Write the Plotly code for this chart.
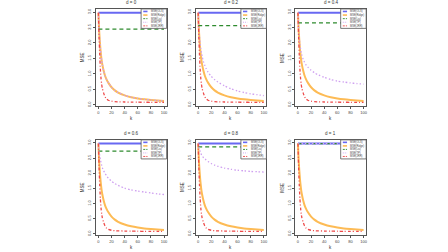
import plotly.graph_objects as go

# ---------------- data ----------------
K = [0, 1, 2, 3, 4, 5, 6, 8, 10, 12, 15, 20, 25, 30, 40, 50, 60, 70, 80, 90, 100]
D_VALUES = [0, 0.2, 0.4, 0.6, 0.8, 1]
PANEL_TITLES = ["d = 0", "d = 0.2", "d = 0.4", "d = 0.6", "d = 0.8", "d = 1"]
SERIES_NAMES = ["MSE(OLS)", "MSE(Ridge)", "MSE(Liu)", "MSE(TP)", "MSE(JRR)"]

OLS_MSE = 2.98
LIU_MSE = [2.45, 2.56, 2.65, 2.73, 2.87, 2.98]
RIDGE_MSE = [2.98, 2.45, 2.1, 1.82, 1.6, 1.43, 1.3, 1.1, 0.95, 0.84, 0.72, 0.57,
             0.47, 0.4, 0.31, 0.25, 0.21, 0.18, 0.16, 0.145, 0.13]
RED_MSE = [2.98, 2.2, 1.6, 1.15, 0.85, 0.66, 0.53, 0.38, 0.27, 0.2, 0.15, 0.12,
           0.105, 0.1, 0.095, 0.09, 0.088, 0.086, 0.085, 0.083, 0.082]
TP_D0 = [2.98, 2.45, 2.1, 1.82, 1.6, 1.43, 1.3, 1.1, 0.95, 0.84, 0.72, 0.57,
         0.47, 0.4, 0.31, 0.25, 0.21, 0.18, 0.16, 0.145, 0.13]
TP_D02 = [2.98, 2.5, 2.2, 1.98, 1.82, 1.68, 1.57, 1.4, 1.28, 1.18, 1.06, 0.92,
          0.82, 0.74, 0.62, 0.52, 0.45, 0.4, 0.36, 0.33, 0.3]
TP_D04 = [2.98, 2.45, 2.15, 1.95, 1.8, 1.68, 1.6, 1.47, 1.38, 1.3, 1.22, 1.12,
          1.04, 0.98, 0.89, 0.82, 0.77, 0.74, 0.71, 0.69, 0.67]
TP_D06 = [2.98, 2.74, 2.57, 2.45, 2.35, 2.26, 2.18, 2.08, 2.0, 1.93, 1.84, 1.74,
          1.66, 1.6, 1.51, 1.45, 1.41, 1.38, 1.35, 1.32, 1.3]
TP_D08 = [2.98, 2.88, 2.8, 2.72, 2.66, 2.61, 2.57, 2.52, 2.48, 2.44, 2.39, 2.32,
          2.27, 2.23, 2.17, 2.13, 2.1, 2.08, 2.06, 2.05, 2.04]
TP_D1 = [2.98, 2.98, 2.98, 2.98, 2.98, 2.98, 2.98, 2.98, 2.98, 2.98, 2.98, 2.98,
         2.98, 2.98, 2.98, 2.98, 2.98, 2.98, 2.98, 2.98, 2.98]
TP_MSE = [TP_D0, TP_D02, TP_D04, TP_D06, TP_D08, TP_D1]

X_TICKS = [0, 20, 40, 60, 80, 100]
Y_TICKS = [0.0, 0.5, 1.0, 1.5, 2.0, 2.5, 3.0]

# ---------------- style ----------------
W, H = 448, 252
BLUE = "#6868F2"
ORANGE = "#FDBB55"
GREEN = "#2E8B2E"
PURPLE = "#CFA0F0"
RED = "#EE4A4A"
FONT = "Liberation Sans"
STYLES = [
    dict(color=BLUE, width=2),
    dict(color=ORANGE, width=2),
    dict(color=GREEN, width=1.3, dash="4px,3px"),
    dict(color=PURPLE, width=1.3, dash="1.5px,2px"),
    dict(color=RED, width=1.3, dash="3px,2px,1px,2px"),
]

X_PIX = [(96, 167), (196, 267), (296, 367)]
Y_PIX = [(8, 106), (140, 236)]

fig = go.Figure()
layout = {}
shapes = []
annotations = []

for i, d in enumerate(D_VALUES):
    row, col = i // 3, i % 3
    s = "" if i == 0 else str(i + 1)
    xa, ya = "x" + s, "y" + s
    x0, x1 = X_PIX[col]
    y0, y1 = Y_PIX[row]

    series = [
        ([0, 100], [OLS_MSE, OLS_MSE]),
        (K, RIDGE_MSE),
        ([0, 100], [LIU_MSE[i], LIU_MSE[i]]),
        (K, TP_MSE[i]),
        (K, RED_MSE),
    ]
    for (xs, ys), st, nm in zip(series, STYLES, SERIES_NAMES):
        fig.add_trace(go.Scatter(x=xs, y=ys, xaxis=xa, yaxis=ya, mode="lines",
                                 line=dict(shape="spline", smoothing=0.6, **st),
                                 name=nm, showlegend=False, hoverinfo="skip"))

    layout["xaxis" + s] = dict(
        domain=[x0 / W, x1 / W], anchor=ya, range=[-4, 104],
        tickvals=X_TICKS, ticks="outside", ticklen=2, tickwidth=0.6,
        tickcolor="#555", showline=True, linecolor="#555", linewidth=0.8,
        mirror=True, showgrid=False, zeroline=False,
        tickfont=dict(size=4, color="#444", family=FONT))
    layout["yaxis" + s] = dict(
        domain=[1 - y1 / H, 1 - y0 / H], anchor=xa, range=[-0.04, 3.1],
        tickvals=Y_TICKS, ticktext=[f"{v:.1f}" for v in Y_TICKS],
        ticks="outside", ticklen=2, tickwidth=0.6, tickcolor="#555",
        tickangle=-90, showline=True, linecolor="#555", linewidth=0.8,
        mirror=True, showgrid=False, zeroline=False,
        tickfont=dict(size=4, color="#444", family=FONT))

    dx, dy = xa + " domain", ya + " domain"
    # panel title
    annotations.append(dict(text=PANEL_TITLES[i], xref=dx, yref=dy, x=0.5, y=1,
                            yanchor="middle", yshift=6, showarrow=False,
                            font=dict(size=4.5, color="#333", family=FONT)))
    # axis titles
    annotations.append(dict(text="k", xref=dx, yref=dy, x=0.5, y=0,
                            yanchor="middle", yshift=-12, showarrow=False,
                            borderpad=0,
                            font=dict(size=4.5, color="#333", family=FONT)))
    annotations.append(dict(text="MSE", xref=dx, yref=dy, x=0, y=0.5,
                            xanchor="center", xshift=-13, textangle=-90,
                            showarrow=False,
                            font=dict(size=4.5, color="#333", family=FONT)))

    # legend box (top-right inside each panel)
    lx0, lx1, ly0, ly1 = 0.64, 1.0, 0.80, 1.0
    shapes.append(dict(type="rect", xref=dx, yref=dy, x0=lx0, x1=lx1,
                       y0=ly0, y1=ly1, fillcolor="white",
                       line=dict(color="#555", width=0.8), layer="above"))
    n = len(SERIES_NAMES)
    for j, (st, nm) in enumerate(zip(STYLES, SERIES_NAMES)):
        yy = ly1 - (j + 0.7) * (ly1 - ly0) / (n + 0.4)
        ln = dict(color=st["color"], width=max(st["width"] - 0.4, 0.8))
        if "dash" in st:
            ln["dash"] = "2px,1px" if j != 3 else "1px,1px"
        shapes.append(dict(type="line", xref=dx, yref=dy, x0=lx0 + 0.03,
                           x1=lx0 + 0.09, y0=yy, y1=yy, line=ln, layer="above"))
        annotations.append(dict(text=nm, xref=dx, yref=dy, x=lx0 + 0.11, y=yy,
                                xanchor="left", yanchor="middle",
                                showarrow=False,
                                font=dict(size=2.6, color="#444", family=FONT)))

fig.update_layout(**layout)
fig.update_layout(width=W, height=H, margin=dict(l=0, r=0, t=0, b=0),
                  paper_bgcolor="white", plot_bgcolor="white",
                  shapes=shapes, annotations=annotations, showlegend=False,
                  font=dict(family=FONT))
fig.write_html("out.html", config={"displayModeBar": False},
               post_script="document.body.style.margin='0';"
                           "document.body.style.overflow='hidden';")
